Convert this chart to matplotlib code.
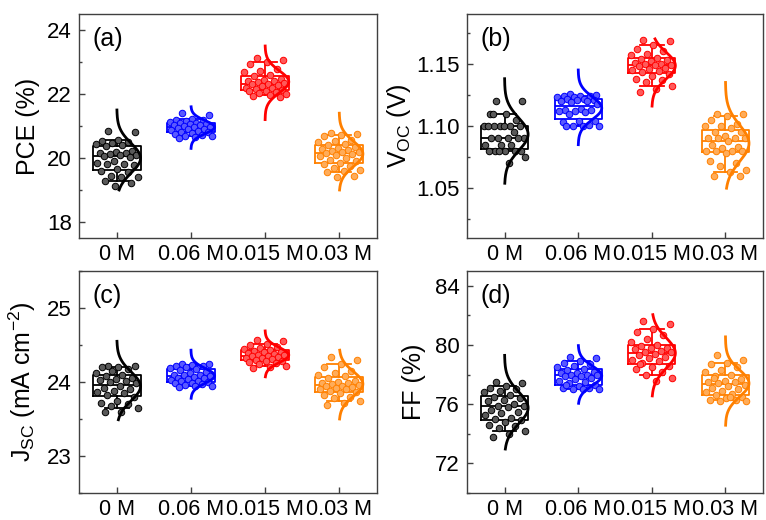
import numpy as np
import matplotlib
matplotlib.use("Agg")
import matplotlib.pyplot as plt
from matplotlib.ticker import MultipleLocator, AutoMinorLocator, FormatStrFormatter

plt.rcParams['font.family'] = ['Liberation Sans', 'DejaVu Sans']
plt.rcParams['mathtext.fontset'] = 'custom'
plt.rcParams['mathtext.rm'] = 'Liberation Sans'
plt.rcParams['mathtext.it'] = 'Liberation Sans'

categories = ["0 M", "0.06 M", "0.015 M", "0.03 M"]
colors = ["#000000", "#0000FF", "#FF0000", "#FF8000"]

pce_0 = [20.84, 20.80, 20.55, 20.52, 20.50, 20.48, 20.45, 20.40, 20.38, 20.22, 20.20, 20.17, 20.15, 20.12, 20.10, 20.08,
         20.06, 20.02, 19.90, 19.85, 19.82, 19.80, 19.78, 19.65, 19.60, 19.55, 19.45, 19.42, 19.40, 19.28, 19.22, 19.12]
pce_006 = [21.40, 21.35, 21.22, 21.20, 21.18, 21.15, 21.12, 21.10, 21.08, 21.06, 21.05, 21.03, 21.02, 21.00, 20.98,
           20.96, 20.95, 20.92, 20.90, 20.88, 20.85, 20.82, 20.80, 20.78, 20.75, 20.72, 20.70, 20.68, 20.65, 20.62]
pce_0015 = [23.12, 23.05, 23.00, 22.95, 22.78, 22.72, 22.70, 22.60, 22.55, 22.48, 22.45, 22.42, 22.40, 22.38, 22.35, 22.32,
            22.30, 22.28, 22.25, 22.20, 22.18, 22.15, 22.12, 22.10, 22.08, 22.05, 22.02, 22.00, 21.98, 21.95, 21.90]
pce_003 = [20.78, 20.75, 20.72, 20.68, 20.55, 20.52, 20.50, 20.45, 20.40, 20.35, 20.30, 20.28, 20.25, 20.22, 20.20, 20.18,
           20.15, 20.12, 20.10, 20.05, 20.00, 19.95, 19.90, 19.85, 19.80, 19.75, 19.70, 19.62, 19.60, 19.55, 19.45, 19.40]

voc_0 = [1.120, 1.120, 1.110, 1.110, 1.105, 1.100, 1.100, 1.100, 1.100, 1.100, 1.100, 1.100, 1.095, 1.090, 1.090, 1.090,
         1.090, 1.090, 1.085, 1.085, 1.085, 1.080, 1.080, 1.080, 1.080, 1.080, 1.080, 1.075, 1.070, 1.110]
voc_006 = [1.126, 1.125, 1.124, 1.124, 1.124, 1.123, 1.123, 1.122, 1.122, 1.121, 1.121, 1.120, 1.120, 1.119, 1.118, 1.114,
           1.113, 1.113, 1.112, 1.112, 1.111, 1.110, 1.104, 1.104, 1.103, 1.101, 1.100, 1.100, 1.100, 1.100]
voc_0015 = [1.169, 1.168, 1.165, 1.162, 1.160, 1.158, 1.157, 1.155, 1.154, 1.153, 1.152, 1.151, 1.150, 1.150, 1.149, 1.149,
            1.148, 1.147, 1.146, 1.145, 1.144, 1.143, 1.142, 1.140, 1.138, 1.137, 1.135, 1.132, 1.130, 1.127]
voc_003 = [1.110, 1.110, 1.108, 1.105, 1.102, 1.100, 1.100, 1.098, 1.095, 1.095, 1.092, 1.090, 1.090, 1.090, 1.090, 1.088,
           1.085, 1.083, 1.082, 1.080, 1.080, 1.080, 1.080, 1.078, 1.072, 1.070, 1.068, 1.065, 1.063, 1.060, 1.060]

jsc_0 = [24.22, 24.21, 24.20, 24.20, 24.18, 24.15, 24.12, 24.10, 24.08, 24.05, 24.04, 24.03, 24.02, 24.00, 23.98, 23.95,
         23.92, 23.90, 23.88, 23.86, 23.85, 23.82, 23.80, 23.75, 23.72, 23.70, 23.68, 23.65, 23.60, 23.59]
jsc_006 = [24.25, 24.24, 24.23, 24.22, 24.21, 24.20, 24.19, 24.18, 24.16, 24.14, 24.12, 24.10, 24.10, 24.09, 24.08, 24.07,
           24.06, 24.05, 24.04, 24.03, 24.02, 24.01, 24.00, 23.99, 23.98, 23.97, 23.96, 23.95, 23.94, 23.93]
jsc_0015 = [24.57, 24.55, 24.52, 24.50, 24.47, 24.46, 24.45, 24.43, 24.42, 24.41, 24.40, 24.39, 24.38, 24.37, 24.36, 24.35,
            24.35, 24.34, 24.33, 24.32, 24.31, 24.30, 24.29, 24.28, 24.27, 24.26, 24.25, 24.22, 24.20, 24.19]
jsc_003 = [24.34, 24.30, 24.25, 24.20, 24.15, 24.12, 24.10, 24.08, 24.05, 24.02, 24.00, 23.99, 23.98, 23.97, 23.96, 23.95,
           23.94, 23.93, 23.92, 23.90, 23.90, 23.88, 23.86, 23.85, 23.82, 23.80, 23.78, 23.75, 23.72, 23.69]

ff_0 = [77.5, 77.4, 77.2, 77.1, 77.0, 76.9, 76.8, 76.6, 76.5, 76.4, 76.3, 76.2, 76.0, 75.9, 75.9, 75.8, 75.6, 75.5, 75.4,
        75.3, 75.1, 75.0, 74.9, 74.8, 74.6, 74.5, 74.4, 74.2, 74.0, 73.8]
ff_006 = [79.2, 79.1, 78.9, 78.8, 78.7, 78.6, 78.5, 78.4, 78.3, 78.2, 78.1, 78.1, 78.0, 78.0, 78.0, 77.9, 77.9, 77.8, 77.7,
          77.6, 77.5, 77.4, 77.3, 77.2, 77.1, 77.1, 77.0, 77.0, 77.0, 77.3]
ff_0015 = [81.6, 81.4, 81.1, 80.9, 80.7, 80.4, 80.2, 80.0, 79.9, 79.8, 79.8, 79.7, 79.6, 79.5, 79.5, 79.4, 79.3, 79.2,
           79.1, 79.0, 78.9, 78.8, 78.6, 78.5, 78.4, 78.2, 78.0, 77.8, 77.6, 78.7]
ff_003 = [79.3, 79.0, 78.8, 78.7, 78.5, 78.3, 78.2, 78.0, 77.9, 77.7, 77.6, 77.5, 77.5, 77.4, 77.3, 77.2, 77.1, 77.0, 76.9,
          76.8, 76.7, 76.6, 76.5, 76.4, 76.3, 76.3, 76.2, 76.2, 76.5, 77.8]

# extents of the drawn normal curves (low, high)
pce_curve_lo = [19.0, 20.3, 21.2, 19.0]
pce_curve_hi = [21.5, 21.6, 23.5, 21.4]
voc_curve_lo = [1.054, 1.085, 1.116, 1.050]
voc_curve_hi = [1.138, 1.145, 1.170, 1.135]
jsc_curve_lo = [23.49, 23.78, 24.07, 23.50]
jsc_curve_hi = [24.55, 24.43, 24.69, 24.43]
ff_curve_lo = [72.97, 76.06, 76.56, 74.58]
ff_curve_hi = [79.30, 79.96, 82.05, 80.55]

panels = [
    dict(data=[pce_0, pce_006, pce_0015, pce_003], lo=pce_curve_lo, hi=pce_curve_hi,
         ylabel="PCE (%)", ylim=(17.5, 24.5), major=2, tag="(a)", fmt=None),
    dict(data=[voc_0, voc_006, voc_0015, voc_003], lo=voc_curve_lo, hi=voc_curve_hi,
         ylabel="V$_{\\mathregular{OC}}$ (V)", ylim=(1.01, 1.19), major=0.05, tag="(b)", fmt='%.2f'),
    dict(data=[jsc_0, jsc_006, jsc_0015, jsc_003], lo=jsc_curve_lo, hi=jsc_curve_hi,
         ylabel="J$_{\\mathregular{SC}}$ (mA cm$^{\\mathregular{-2}}$)", ylim=(22.5, 25.5), major=1, tag="(c)", fmt=None),
    dict(data=[ff_0, ff_006, ff_0015, ff_003], lo=ff_curve_lo, hi=ff_curve_hi,
         ylabel="FF (%)", ylim=(70, 85), major=4, tag="(d)", fmt=None),
]

W, H = 766, 520
fig = plt.figure(figsize=(W / 100, H / 100), dpi=100)
rects = [(79, 14, 377, 238), (467, 14, 763, 238), (79, 271, 377, 493), (467, 271, 763, 493)]
label_right = [40, 413, 38, 426]

spine_c = "#404040"
box_w = 0.64

def lighten(c, f):
    rgb = np.array(matplotlib.colors.to_rgb(c))
    return tuple(rgb + (1 - rgb) * f)

for k, (p, (l, t, r, b)) in enumerate(zip(panels, rects)):
    ax = fig.add_axes([l / W, 1 - b / H, (r - l) / W, (b - t) / H])
    pos = np.arange(1, len(categories) + 1)
    for i, (vals, c) in enumerate(zip(p["data"], colors)):
        vals = np.asarray(vals, dtype=float)
        x0 = pos[i]
        ax.boxplot([vals], positions=[x0], widths=box_w, whis=(5, 95), showfliers=False,
                   patch_artist=False, manage_ticks=False,
                   boxprops=dict(color=c, linewidth=1.3),
                   medianprops=dict(color=c, linewidth=1.3),
                   whiskerprops=dict(color=c, linewidth=1.3),
                   capprops=dict(color=c, linewidth=1.3))
        n = len(vals)
        jit = ((np.arange(n) * 0.61803398875 + 0.3) % 1.0 - 0.5) * (box_w * 0.9)
        ax.scatter(x0 + jit, vals, s=22, facecolor=lighten(c, 0.35), edgecolor=c,
                   linewidths=0.7, zorder=3)
        mu, sd = vals.mean(), vals.std(ddof=1)
        yy = np.linspace(p["lo"][i], p["hi"][i], 200)
        pdf = np.exp(-0.5 * ((yy - mu) / sd) ** 2)
        ax.plot(x0 + pdf * box_w / 2, yy, color=c, linewidth=2.0, zorder=4)
    ax.set_xlim(0.49, 4.51)
    ax.set_ylim(*p["ylim"])
    ax.set_xticks(pos)
    ax.set_xticklabels(categories)
    ax.yaxis.set_major_locator(MultipleLocator(p["major"]))
    ax.yaxis.set_minor_locator(AutoMinorLocator(2))
    if p["fmt"]:
        ax.yaxis.set_major_formatter(FormatStrFormatter(p["fmt"]))
    ax.tick_params(axis='both', which='major', direction='in', length=4, width=1, color=spine_c)
    ax.tick_params(axis='x', which='major', pad=4, labelsize=15.5)
    ax.tick_params(axis='y', which='major', pad=5, labelsize=16)
    ax.tick_params(axis='y', which='minor', direction='in', length=2.5, width=1, color=spine_c)
    ax.tick_params(axis='x', which='minor', bottom=False)
    for s in ax.spines.values():
        s.set_color(spine_c)
        s.set_linewidth(1.0)
    ax.set_ylabel(p["ylabel"], fontsize=18)
    ax.yaxis.set_label_coords((label_right[k] - l) / (r - l), 0.5)
    ax.text(13 / (r - l), 1 - 13 / (b - t), p["tag"], transform=ax.transAxes,
            fontsize=18, va='top', ha='left')

fig.savefig("out.png", dpi=100)
